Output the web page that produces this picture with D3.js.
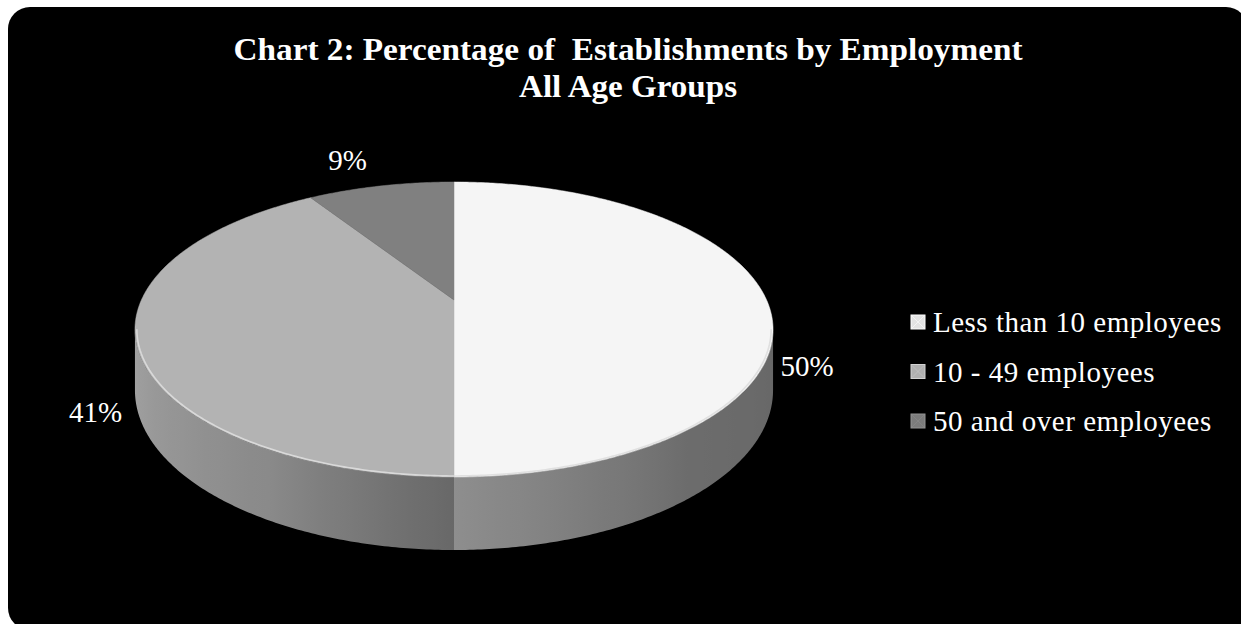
<!DOCTYPE html>
<html>
<head>
<meta charset="utf-8">
<script src="https://cdn.jsdelivr.net/npm/d3@7"></script>
<style>
  html, body { margin: 0; padding: 0; background: #ffffff; }
  svg { display: block; }
  text { font-family: "Liberation Serif", "DejaVu Serif", serif; fill: #ffffff; }
</style>
</head>
<body>
<svg id="chart" width="1241" height="624"></svg>
<script>
// Establishment size shares (percent of all establishments)
const categories = ["Less than 10 employees", "10 - 49 employees", "50 and over employees"];
const shares = [50, 41, 9];
const shareLabels = ["50%", "41%", "9%"];
const titleLines = ["Chart 2: Percentage of  Establishments by Employment", "All Age Groups"];

const svg = d3.select("#chart");
const defs = svg.append("defs");

// Rounded black panel
svg.append("rect")
  .attr("x", 8).attr("y", 7)
  .attr("width", 1240).attr("height", 623)
  .attr("rx", 22).attr("ry", 22)
  .attr("fill", "#000000");

// Title, compressed to a condensed face
const titleWidths = [789, 218];
const titleBase = [60, 97];
titleLines.forEach((t, i) => {
  svg.append("text")
    .attr("x", 628).attr("y", titleBase[i])
    .attr("text-anchor", "middle")
    .attr("font-weight", "bold")
    .attr("font-size", 32.5)
    .attr("textLength", titleWidths[i])
    .attr("lengthAdjust", "spacingAndGlyphs")
    .style("white-space", "pre")
    .text(t);
});

// 3D pie geometry (perspective-projected disc)
const cx = 454, cy = 300;      // projected centre of the top face
const A = 312.6, B = 141.6;    // horizontal / vertical semi-axes
const k = 0.2;                 // perspective strength
const depth = 58.4;            // thickness of the disc
function proj(theta, r = 1, drop = 0) {
  const s = 1 / (1 + k * Math.cos(theta));
  return [cx + A * r * Math.sin(theta) * s, cy - B * r * Math.cos(theta) * s + drop * s];
}
const tan1 = Math.acos(-k), tan2 = 2 * Math.PI - Math.acos(-k); // silhouette angles

const topColor = d3.scaleOrdinal().domain(categories).range(["#f5f5f5", "#b3b3b3", "#808080"]);
// wall shading by angle around the rim
const sideShade = {
  [categories[0]]: d3.scaleLinear().domain([tan1, 2.45, Math.PI]).range(["#676767", "#6c6c6c", "#8e8e8e"]).clamp(true),
  [categories[1]]: d3.scaleLinear().domain([Math.PI, 3.66, tan2]).range(["#686868", "#8a8a8a", "#a2a2a2"]).clamp(true),
  [categories[2]]: d3.scaleLinear().domain([0, 1]).range(["#555555", "#555555"])
};

const pie = d3.pie().sort(null).startAngle(0).endAngle(2 * Math.PI);
const arcs = pie(shares).map((d, i) => ({ ...d, cat: categories[i], label: shareLabels[i], idx: i }));

const gPie = svg.append("g");
const line = pts => "M" + pts.map(q => q[0].toFixed(2) + "," + q[1].toFixed(2)).join("L");

// Visible outer walls with a horizontal gradient that follows the rim shading
arcs.forEach(d => {
  const lo = Math.max(d.startAngle, tan1), hi = Math.min(d.endAngle, tan2);
  if (hi <= lo) return;
  const n = Math.ceil((hi - lo) / 0.01);
  const ts = d3.range(n + 1).map(j => lo + (hi - lo) * j / n);
  const topPts = ts.map(t => proj(t));
  const botPts = ts.map(t => proj(t, 1, depth)).reverse();
  const xs = topPts.map(p => p[0]);
  const x0 = d3.min(xs), x1 = d3.max(xs);
  const gid = "wall" + d.idx;
  const grad = defs.append("linearGradient")
    .attr("id", gid).attr("gradientUnits", "userSpaceOnUse")
    .attr("x1", x0).attr("x2", x1).attr("y1", 0).attr("y2", 0);
  const stops = d3.range(25).map(j => {
    const t = lo + (hi - lo) * j / 24;
    return { o: (proj(t)[0] - x0) / (x1 - x0), c: sideShade[d.cat](t) };
  }).sort((a, b) => a.o - b.o);
  stops.forEach(s => grad.append("stop").attr("offset", s.o).attr("stop-color", s.c));
  gPie.append("path")
    .attr("d", line(topPts.concat(botPts)) + "Z")
    .attr("fill", `url(#${gid})`);
});

// Top faces
arcs.forEach(d => {
  const n = Math.max(8, Math.ceil((d.endAngle - d.startAngle) / 0.01));
  const pts = d3.range(n + 1).map(j => proj(d.startAngle + (d.endAngle - d.startAngle) * j / n));
  gPie.append("path")
    .attr("d", line([[cx, cy]].concat(pts)) + "Z")
    .attr("fill", topColor(d.cat))
    .attr("stroke", topColor(d.cat)).attr("stroke-width", 0.5);
});

// Soft highlight along the front rim of the top face
arcs.forEach(d => {
  const lo = Math.max(d.startAngle, tan1), hi = Math.min(d.endAngle, tan2);
  if (hi <= lo) return;
  const n = Math.ceil((hi - lo) / 0.01);
  const pts = d3.range(n + 1).map(j => proj(lo + (hi - lo) * j / n, 0.994));
  gPie.append("path")
    .attr("d", line(pts))
    .attr("fill", "none")
    .attr("stroke", d.cat === categories[0] ? "#d8d8d8" : "#e6e6e6")
    .attr("stroke-width", 1.6)
    .attr("stroke-opacity", 0.75);
});

// Percentage labels outside the disc
arcs.forEach(d => {
  const mid = (d.startAngle + d.endAngle) / 2;
  const sn = Math.sin(mid), cs = Math.cos(mid);
  const front = cs < 0.5;
  const edge = proj(mid, 1, front ? depth * 1.2 : 0);
  const x = edge[0] + Math.sign(sn) * 14;
  const y = front ? edge[1] - 4 : edge[1] - cs * 27;
  svg.append("text")
    .attr("x", x).attr("y", y)
    .attr("dy", "0.35em")
    .attr("text-anchor", sn > 0.25 ? "start" : (sn < -0.25 ? "end" : "middle"))
    .attr("font-size", 29)
    .text(d.label);
});

// Legend
const legY = d3.scalePoint().domain(categories).range([322, 421]);
const markFill = d3.scaleOrdinal().domain(categories).range(["#e4e4e4", "#b0b0b0", "#7c7c7c"]);
const legend = svg.append("g");
categories.forEach(c => {
  const y = legY(c);
  legend.append("rect")
    .attr("x", 911).attr("y", y - 7).attr("width", 14).attr("height", 14)
    .attr("fill", markFill(c))
    .attr("stroke", d3.color(markFill(c)).brighter(0.5)).attr("stroke-width", 1);
  legend.append("path")
    .attr("d", `M912,${y - 6}L924,${y + 6}M924,${y - 6}L912,${y + 6}`)
    .attr("stroke", d3.color(markFill(c)).brighter(0.35)).attr("stroke-width", 1).attr("stroke-opacity", 0.6);
  legend.append("text")
    .attr("x", 933).attr("y", y).attr("dy", "0.35em")
    .attr("font-size", 29)
    .attr("letter-spacing", 0.5)
    .text(c);
});
</script>
</body>
</html>
